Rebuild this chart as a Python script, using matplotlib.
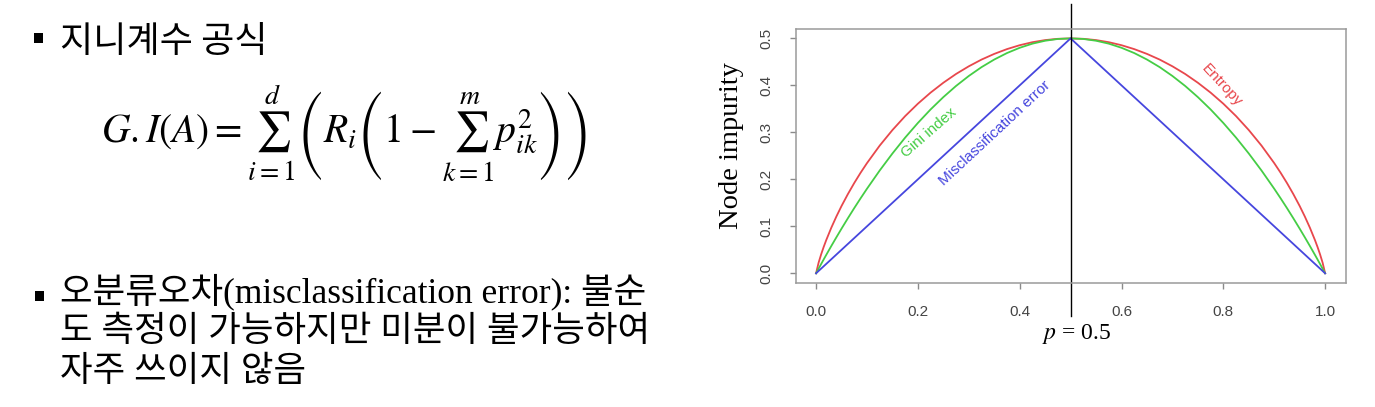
import matplotlib
matplotlib.use("Agg")
import matplotlib.pyplot as plt
from matplotlib.patches import Rectangle

# ---------------- data ----------------
p_curve = [0.0, 0.005, 0.01, 0.015, 0.02, 0.03, 0.04, 0.05, 0.0625, 0.075, 0.0875, 0.1, 0.125, 0.15,
           0.175, 0.2, 0.225, 0.25, 0.275, 0.3, 0.325, 0.35, 0.375, 0.4, 0.425, 0.45, 0.475, 0.5,
           0.525, 0.55, 0.575, 0.6, 0.625, 0.65, 0.675, 0.7, 0.725, 0.75, 0.775, 0.8, 0.825, 0.85,
           0.875, 0.9, 0.9125, 0.925, 0.9375, 0.95, 0.96, 0.97, 0.98, 0.985, 0.99, 0.995, 1.0]
entropy = [0.0, 0.0227, 0.0404, 0.0562, 0.0707, 0.0972, 0.1211, 0.1432, 0.1686, 0.1922, 0.2141, 0.2345,
           0.2718, 0.3049, 0.3346, 0.3610, 0.3846, 0.4056, 0.4243, 0.4406, 0.4549, 0.4670, 0.4772,
           0.4855, 0.4919, 0.4964, 0.4991, 0.5,
           0.4991, 0.4964, 0.4919, 0.4855, 0.4772, 0.4670, 0.4549, 0.4406, 0.4243, 0.4056, 0.3846,
           0.3610, 0.3346, 0.3049, 0.2718, 0.2345, 0.2141, 0.1922, 0.1686, 0.1432, 0.1211, 0.0972,
           0.0707, 0.0562, 0.0404, 0.0227, 0.0]
gini = [0.0, 0.00995, 0.0198, 0.02955, 0.0392, 0.0582, 0.0768, 0.095, 0.1172, 0.1388, 0.1597, 0.18,
        0.2188, 0.255, 0.2888, 0.32, 0.3488, 0.375, 0.3988, 0.42, 0.4388, 0.455, 0.4688, 0.48,
        0.4888, 0.495, 0.4988, 0.5,
        0.4988, 0.495, 0.4888, 0.48, 0.4688, 0.455, 0.4388, 0.42, 0.3988, 0.375, 0.3488, 0.32,
        0.2888, 0.255, 0.2188, 0.18, 0.1597, 0.1388, 0.1172, 0.095, 0.0768, 0.0582, 0.0392,
        0.02955, 0.0198, 0.00995, 0.0]
p_mis = [0.0, 0.5, 1.0]
misclass = [0.0, 0.5, 0.0]

x_ticks = [0.0, 0.2, 0.4, 0.6, 0.8, 1.0]
x_tick_labels = ["0.0", "0.2", "0.4", "0.6", "0.8", "1.0"]
y_ticks = [0.0, 0.1, 0.2, 0.3, 0.4, 0.5]
y_tick_labels = ["0.0", "0.1", "0.2", "0.3", "0.4", "0.5"]
p_mark = 0.5

title1 = "지니계수 공식"
formula = r"$G.I(A)=\sum_{i=1}^{d}\left(R_i\left(1-\sum_{k=1}^{m}p_{ik}^{2}\right)\right)$"
body_lines = ["오분류오차(misclassification error): 불순",
              "도 측정이 가능하지만 미분이 불가능하여",
              "자주 쓰이지 않음"]

RED = "#E8474C"
GREEN = "#45CD45"
BLUE = "#4646DE"

plt.rcParams["mathtext.fontset"] = "stix"

W, H = 1375, 407
fig = plt.figure(figsize=(W / 100, H / 100), dpi=100)
fig.patch.set_facecolor("white")


def fx(px):
    return px / W


def fy(py):
    return 1 - py / H


# ---------------- left text ----------------
fig.add_artist(Rectangle((fx(34), fy(43)), 9 / W, 10 / H, transform=fig.transFigure,
                         facecolor="black", edgecolor="none"))
fig.add_artist(Rectangle((fx(35), fy(301)), 9 / W, 10 / H, transform=fig.transFigure,
                         facecolor="black", edgecolor="none"))

fig.text(fx(60), fy(52), title1, family=["Noto Sans CJK KR", "DejaVu Sans"], fontsize=26,
         va="baseline", ha="left", color="black")
fig.text(fx(101), fy(133), formula, fontsize=28.5, va="center", ha="left", color="black")

baselines = [302, 341, 381]
for line, b in zip(body_lines, baselines):
    fig.text(fx(60), fy(b), line, family=["Liberation Serif", "Noto Sans CJK KR", "DejaVu Sans"],
             fontsize=25.5, va="baseline", ha="left", color="black")

# ---------------- chart ----------------
ax = fig.add_axes([fx(795.7), fy(282.7), (1345.5 - 795.7) / W, (282.7 - 29) / H])
ax.plot(p_curve, entropy, color=RED, lw=1.3)
ax.plot(p_curve, gini, color=GREEN, lw=1.3)
ax.plot(p_mis, misclass, color=BLUE, lw=1.3)
ax.axvline(p_mark, ymin=-0.13, ymax=1.1, color="black", lw=1.0, clip_on=False)

ax.set_xlim(-0.04, 1.04)
ax.set_ylim(-0.02, 0.52)
ax.set_xticks(x_ticks)
ax.set_xticklabels(x_tick_labels)
ax.set_yticks(y_ticks)
ax.set_yticklabels(y_tick_labels, rotation=90, va="center")
for lab in ax.get_xticklabels() + ax.get_yticklabels():
    lab.set_family("Liberation Sans")
ax.tick_params(axis="both", colors="#8a8a8a", labelcolor="#444444", labelsize=11,
               length=4.3, width=1.0, pad=12)
for s in ax.spines.values():
    s.set_color("#9a9a9a")
    s.set_linewidth(1.1)

ax.set_ylabel("Node impurity", family="Liberation Serif", fontsize=20.5, color="black")
ax.yaxis.label.set_va("center")
ax.yaxis.set_label_coords(-0.116, 0.539)

ax.text(0.222, 0.300, "Gini index", color=GREEN, fontsize=11, family="Liberation Sans",
        rotation=41, rotation_mode="anchor", ha="center", va="center")
ax.text(0.351, 0.298, "Misclassification error", color=BLUE, fontsize=11, family="Liberation Sans",
        rotation=43, rotation_mode="anchor", ha="center", va="center")
ax.text(0.797, 0.400, "Entropy", color=RED, fontsize=11, family="Liberation Sans",
        rotation=-47, rotation_mode="anchor", ha="center", va="center")

ax.text(0.512, -0.140, r"$p$ = 0.5", family="Liberation Serif", fontsize=17, color="black",
        ha="center", va="baseline", clip_on=False)

fig.savefig("out.png", dpi=100, facecolor="white")
